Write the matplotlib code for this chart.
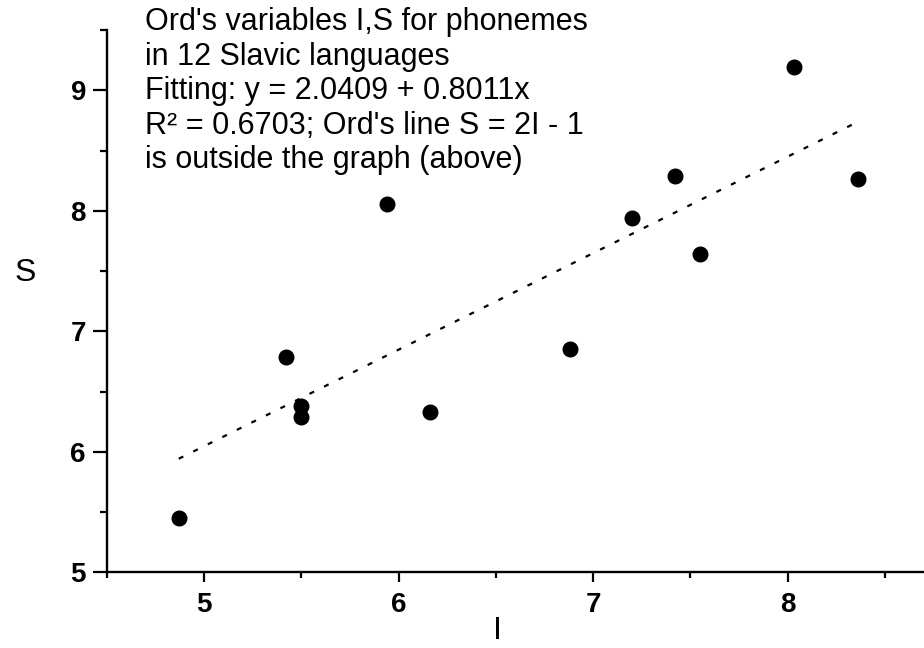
import matplotlib
matplotlib.use("Agg")
import matplotlib.pyplot as plt
import numpy as np
from matplotlib.ticker import MultipleLocator

# data
I_vals = [4.87, 5.42, 5.50, 5.50, 6.16, 5.94, 6.88, 7.20, 7.42, 7.55, 8.03, 8.36]
S_vals = [5.45, 6.79, 6.38, 6.29, 6.33, 8.06, 6.85, 7.94, 8.29, 7.64, 9.19, 8.26]
fit_a = 2.0409
fit_b = 0.8011
note = ("Ord's variables I,S for phonemes\n"
        "in 12 Slavic languages\n"
        "Fitting: y = 2.0409 + 0.8011x\n"
        "R\u00b2 = 0.6703; Ord's line S = 2I - 1\n"
        "is outside the graph (above)")

plt.rcParams['font.family'] = ['Liberation Sans', 'DejaVu Sans']

fig = plt.figure(figsize=(9.24, 6.48), dpi=100)
ax = fig.add_axes([0.1155, 0.1168, 0.8845, 0.8369])

ax.plot(I_vals, S_vals, 'o', color='black', ms=10.5, zorder=3)

xf = np.array([min(I_vals), max(I_vals)])
ax.plot(xf, fit_a + fit_b * xf, color='black', lw=1.6, linestyle=(0, (2.3, 5)))

ax.set_xlim(4.5, 8.7)
ax.set_ylim(5, 9.5)
ax.xaxis.set_major_locator(MultipleLocator(1))
ax.xaxis.set_minor_locator(MultipleLocator(0.5))
ax.yaxis.set_major_locator(MultipleLocator(1))
ax.yaxis.set_minor_locator(MultipleLocator(0.5))

for s in ['top', 'right']:
    ax.spines[s].set_visible(False)
for s in ['left', 'bottom']:
    ax.spines[s].set_linewidth(1.7)

ax.tick_params(axis='x', which='major', direction='out', length=7.5, width=1.6, labelsize=20, pad=7)
ax.tick_params(axis='x', which='minor', direction='out', length=4, width=1.6)
ax.tick_params(axis='y', which='major', direction='out', length=10, width=1.6, labelsize=20, pad=5)
ax.tick_params(axis='y', which='minor', direction='out', length=5, width=1.6)
for lab in ax.get_xticklabels() + ax.get_yticklabels():
    lab.set_fontweight('bold')

fig.text(25 / 924, 1 - 273 / 648, 'S', fontsize=23, ha='center', va='center')
fig.text(497 / 924, 1 - 631 / 648, 'I', fontsize=23, ha='center', va='center')

fig.text(145 / 924, 1 - 7 / 648, note, fontsize=22, ha='left', va='top',
         linespacing=1.2)

fig.savefig('out.png', dpi=100)
